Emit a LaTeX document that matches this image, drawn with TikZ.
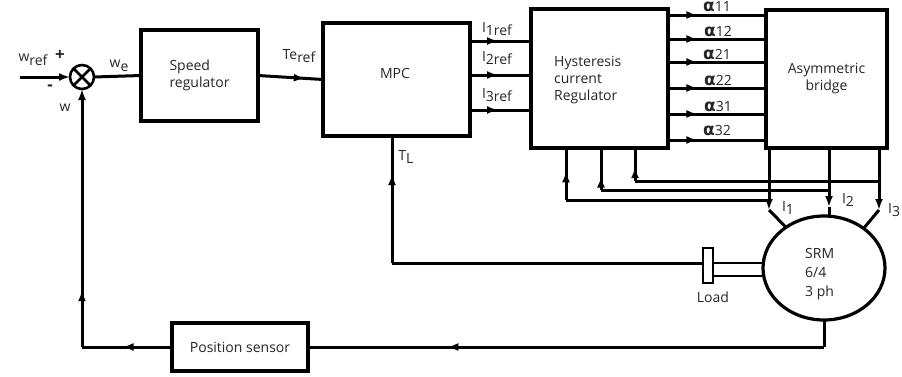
\documentclass[tikz,border=0pt]{standalone}
\usepackage{fontspec}
\setmainfont{Open Sans}
\newfontfamily\dvs{DejaVu Sans}
\usetikzlibrary{arrows.meta,decorations.markings,shapes.geometric}
\newcommand\lowsub[1]{\raisebox{-0.45ex}{#1}}
\newcommand\alf{{\dvs\bfseries\fontsize{17}{17}\selectfont α}}
\begin{document}
\begin{tikzpicture}[x=1pt,y=-1pt,
  every node/.style={font=\fontsize{14}{17}\selectfont, text=black!85},
  blk/.style={draw=black, line width=3.2pt, outer sep=0pt, fill=white},
  lbl/.style={inner sep=0pt},
  ln/.style={line width=3pt},
  marr/.style={ln, postaction={decorate,decoration={markings,mark=at position #1 with {\arrow{Latex[length=11pt,width=8pt]}}}}},
  endarr/.style={ln, -{Latex[length=11pt,width=8pt]}}]
\useasboundingbox (0,0) rectangle (902,376);

% blocks
\node[blk, circle, minimum size=24pt, inner sep=0pt, line width=2.6pt] (sum) at (82,77) {};
\draw[line width=2.6pt] (sum.45) -- (sum.225) (sum.135) -- (sum.-45);
\node[blk, minimum width=117pt, minimum height=91pt, align=left] (speed) at (199.5,75.5) {Speed\\regulator};
\node[blk, minimum width=147pt, minimum height=113pt] (mpc) at (396.5,79.5) {};
\node[lbl] (mpct) at (395,73) {MPC};
\node[blk, minimum width=137pt, minimum height=139pt] (hyst) at (599.5,78.5) {};
\node[lbl, align=left, anchor=west] (hystt) at (554,80) {Hysteresis\\current\\Regulator};
\node[blk, minimum width=121pt, minimum height=138pt, align=center] (bridge) at (826.5,79) {Asymmetric\\bridge};
\node[blk, ellipse, minimum width=122pt, minimum height=104pt] (srm) at (824,268) {};
\node[lbl, align=left, anchor=west] (srmt) at (805,274) {SRM\\[2pt]6/4\\[2pt]3 ph};
\node[blk, minimum width=10pt, minimum height=35pt, line width=2.6pt] (load) at (708,265.5) {};
\node[lbl] (loadt) at (713,297) {Load};
\node[blk, minimum width=136pt, minimum height=48pt] (pos) at (240,347) {Position sensor};

% reference input
\coordinate (win) at (20,77);
\draw[endarr] (win) -- (sum.west);
\draw[ln] (sum.east) -- (speed.west);
\draw[marr=0.72] (speed.east) -- (mpc.west);

% MPC -> hysteresis
\foreach \yy in {41,75,110} {
  \draw[marr=0.46] (mpc.east |- 0,\yy) -- (hyst.west |- 0,\yy);
}
% hysteresis -> bridge
\foreach \yy in {15,39,62,88,114,140} {
  \draw[marr=0.3] (hyst.east |- 0,\yy) -- (bridge.west |- 0,\yy);
}

% bridge -> SRM phase currents
\coordinate (t1) at (769,210);
\coordinate (t2) at (829,207);
\coordinate (t3) at (879,210);
\draw[endarr] (769,0 |- bridge.south) -- (t1);
\draw[endarr] (829,0 |- bridge.south) -- (t2);
\draw[endarr] (879,0 |- bridge.south) -- (t3);
\draw[ln] (t1) -- (srm.133);
\draw[ln] (t2) -- (t2 |- srm.north);
\draw[ln] (t3) -- (srm.45);

% current feedback to hysteresis regulator
\coordinate (k3) at (635,181);
\coordinate (k2) at (601,190);
\coordinate (k1) at (566,200);
\draw[ln] (879,181) -- (k3);
\draw[ln] (829,190) -- (k2);
\draw[ln] (769,200) -- (k1);
\draw[marr=0.42] (k3) -- (k3 |- hyst.south);
\draw[marr=0.32] (k2) -- (k2 |- hyst.south);
\draw[marr=0.55] (k1) -- (k1 |- hyst.south);

% load torque feedback
\coordinate (tlc) at (392,263);
\draw[ln] (load.west |- 0,263) -- (tlc);
\draw[marr=0.7] (tlc) -- (tlc |- mpc.south);
\draw[line width=2.6pt] (load.east |- 0,263) -- (srm.west |- 0,263);
\draw[line width=2.6pt] (load.east |- 0,276) -- (srm.west |- 0,276);

% position feedback
\coordinate (bc) at (srm.south |- 0,347);
\coordinate (lc) at (82,347);
\draw[ln] (srm.south) -- (bc);
\draw[marr=0.73] (bc) -- (pos.east);
\draw[marr=0.55] (pos.west) -- (lc);
\draw[marr=0.22, -{Latex[length=11pt,width=8pt]}] (lc) -- (sum.south);

% labels
\node[lbl] (lwref) at (33,60) {w\lowsub{ref}};
\node[lbl, font=\fontsize{17}{17}\selectfont\bfseries] (lplus) at (60,55) {+};
\node[lbl, font=\fontsize{17}{17}\selectfont\bfseries] (lminus) at (50,88) {-};
\node[lbl] (lw) at (65,108) {w};
\node[lbl] (lwe) at (119,66) {w\lowsub{e}};
\node[lbl] (lte) at (299,56) {Te\lowsub{ref}};
\node[lbl] (li1) at (497,29) {I\lowsub{1ref}};
\node[lbl] (li2) at (497,58) {I\lowsub{2ref}};
\node[lbl] (li3) at (497,95) {I\lowsub{3ref}};
\node[lbl] (ltl) at (406,157) {T\lowsub{L}};
\node[lbl] (a11) at (717,7) {\alf11};
\node[lbl] (a12) at (718,32) {\alf12};
\node[lbl] (a21) at (717,55) {\alf21};
\node[lbl] (a22) at (718,81) {\alf22};
\node[lbl] (a31) at (718,107) {\alf31};
\node[lbl] (a32) at (717,131) {\alf32};
\node[lbl] (lI1) at (788,208) {I\lowsub{1}};
\node[lbl] (lI2) at (848,200) {I\lowsub{2}};
\node[lbl, anchor=west] (lI3) at (888,210) {I\lowsub{3}};
\end{tikzpicture}
\end{document}
